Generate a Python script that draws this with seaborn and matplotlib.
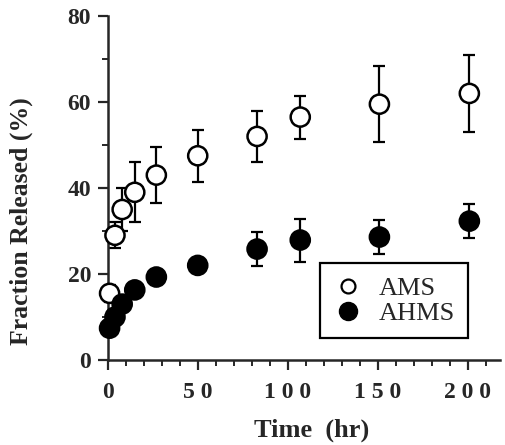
import numpy as np
import pandas as pd
import seaborn as sns
import matplotlib.pyplot as plt
from matplotlib.ticker import MultipleLocator
from matplotlib.lines import Line2D

# datos
time_ams = [1, 4, 8, 15, 27, 50, 83, 107, 151, 201]
ams = [15.5, 29, 35, 39, 43, 47.5, 52, 56.5, 59.5, 62]
ams_err = [2, 3, 5, 7, 6.5, 6, 6, 5, 8.8, 9]

time_ahms = [1, 4, 8, 15, 27, 50, 83, 107, 151, 201]
ahms = [7.4, 10, 13, 16.3, 19.3, 22, 25.8, 27.9, 28.6, 32.3]
ahms_err = [1, 1, 1, 1, 1, 1, 4, 5, 4, 4]

df = pd.DataFrame({
    'Time': time_ams + time_ahms,
    'Released': ams + ahms,
    'err': ams_err + ahms_err,
    'Sample': ['AMS'] * len(ams) + ['AHMS'] * len(ahms),
})

sns.set_style('ticks')
plt.rcParams['font.family'] = ['Liberation Serif', 'DejaVu Serif']

fig = plt.figure(figsize=(5.06, 4.45), dpi=100)
ax = fig.add_axes([0.213, 0.191, 0.775, 0.773])

for name in ['AMS', 'AHMS']:
    d = df[df['Sample'] == name]
    ax.errorbar(d['Time'], d['Released'], yerr=d['err'], fmt='none',
                ecolor='black', elinewidth=1.6, capsize=4, capthick=1.6,
                zorder=1, clip_on=False)

sns.scatterplot(data=df, x='Time', y='Released', style='Sample',
                hue='Sample', palette={'AMS': 'white', 'AHMS': 'black'},
                markers={'AMS': 'o', 'AHMS': 'o'}, s=190,
                edgecolor='black', linewidth=1.8, ax=ax, zorder=3,
                legend=False, clip_on=False)

ax.set_xlim(0, 218)
ax.set_ylim(0, 80)
ax.xaxis.set_major_locator(MultipleLocator(50))
ax.xaxis.set_minor_locator(MultipleLocator(10))
ax.yaxis.set_major_locator(MultipleLocator(20))
ax.yaxis.set_minor_locator(MultipleLocator(10))
ax.tick_params(which='major', length=7, width=1.6, direction='out')
ax.tick_params(which='minor', length=4, width=1.4, direction='out')
ax.tick_params(axis='y', pad=5)
ax.tick_params(axis='x', pad=9)
ax.set_yticks([0, 20, 40, 60, 80])
ax.set_yticklabels(['0', '20', '40', '60', '80'], fontsize=17, fontweight='bold')
ax.set_xticks([0, 50, 100, 150, 200])
ax.set_xticklabels(['0', '5 0', '1 0 0', '1 5 0', '2 0 0'], fontsize=17, fontweight='bold')

sns.despine(ax=ax)
for s in ['left', 'bottom']:
    ax.spines[s].set_linewidth(1.8)

ax.set_xlabel('Time  (hr)', fontsize=19, fontweight='bold')
ax.xaxis.set_label_coords(0.52, -0.17)
ax.set_ylabel('Fraction Released (%)', fontsize=18.5, fontweight='bold')
ax.yaxis.set_label_coords(-0.19, 0.405)

# leyenda
handles = [
    Line2D([], [], marker='o', ls='none', mfc='white', mec='black', mew=1.6, ms=10, label='AMS'),
    Line2D([], [], marker='o', ls='none', mfc='black', mec='black', ms=13, label='AHMS'),
]
leg = ax.legend(handles=handles, loc='lower right', bbox_to_anchor=(0.918, 0.064),
                fontsize=19, frameon=True, fancybox=False, framealpha=1,
                edgecolor='black', borderpad=0.5, handletextpad=0.6,
                labelspacing=0.05, handlelength=1.1, borderaxespad=0)
leg.get_frame().set_linewidth(1.6)

fig.savefig('out.png', dpi=100)
